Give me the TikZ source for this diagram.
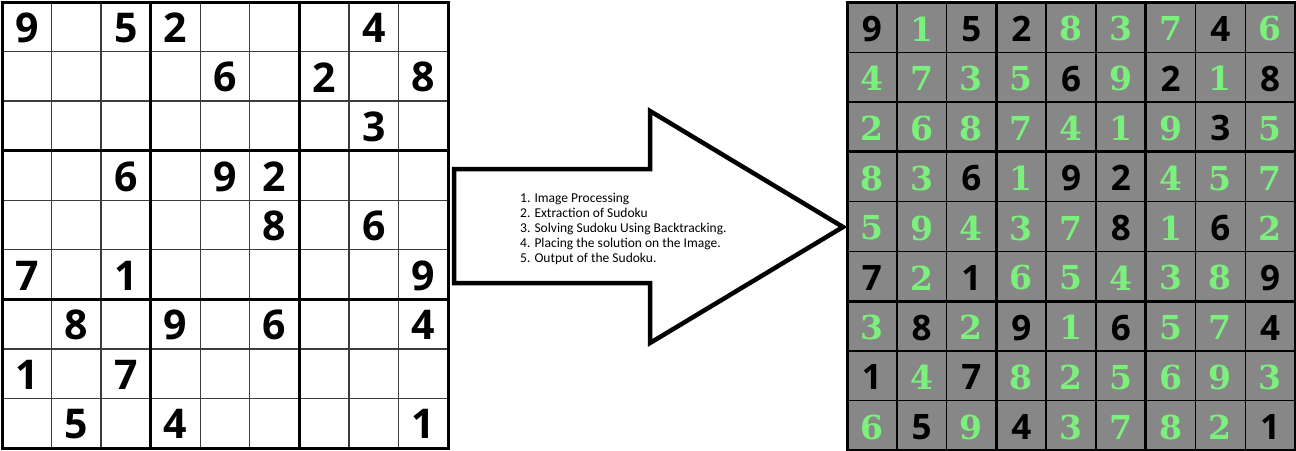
\documentclass[tikz,border=0pt]{standalone}
\usepackage{fontspec}
\setmainfont{Carlito}
\newfontfamily\givenfont{Open Sans}
\newfontfamily\solvedfont{DejaVu Serif}
\definecolor{cellgray}{RGB}{135,135,135}
\definecolor{solvedgreen}{RGB}{124,240,124}
\definecolor{thinline}{RGB}{60,60,60}
\tikzset{
  thingrid/.style={draw=thinline, line width=1.3pt},
  thickgrid/.style={draw=black, line width=3pt},
  clue/.style={inner sep=0pt, font=\givenfont\bfseries\fontsize{41}{41}\selectfont},
  digitk/.style={inner sep=0pt, text=black, font=\givenfont\bfseries\fontsize{35}{35}\selectfont},
  digitg/.style={inner sep=0pt, text=solvedgreen, font=\solvedfont\bfseries\fontsize{33}{33}\selectfont},
  bigarrow/.style={draw=black, line width=4.5pt, line join=miter, fill=white},
  steplist/.style={inner sep=0pt, align=left, anchor=north west,
    font=\fontsize{13.5}{15}\selectfont}
}
\begin{document}
\begin{tikzpicture}[x=1pt,y=-1pt]
\useasboundingbox (0,0) rectangle (1296,450);
\fill[white] (0,0) rectangle (1296,450);

% ---------- puzzle (left) ----------
\def\lx{2}\def\ly{2}\def\lc{49.56}
\foreach \i in {1,2,4,5,7,8}{
  \draw[thingrid] (\lx+\i*\lc,\ly) -- (\lx+\i*\lc,\ly+9*\lc);
  \draw[thingrid] (\lx,\ly+\i*\lc) -- (\lx+9*\lc,\ly+\i*\lc);
}
\foreach \i in {3,6}{
  \draw[thickgrid] (\lx+\i*\lc,\ly) -- (\lx+\i*\lc,\ly+9*\lc);
  \draw[thickgrid] (\lx,\ly+\i*\lc) -- (\lx+9*\lc,\ly+\i*\lc);
}
\draw[thickgrid] (\lx,\ly) rectangle (\lx+9*\lc,\ly+9*\lc);

\foreach \r/\row in {
  0/{9,0,5,2,0,0,0,4,0},
  1/{0,0,0,0,6,0,2,0,8},
  2/{0,0,0,0,0,0,0,3,0},
  3/{0,0,6,0,9,2,0,0,0},
  4/{0,0,0,0,0,8,0,6,0},
  5/{7,0,1,0,0,0,0,0,9},
  6/{0,8,0,9,0,6,0,0,4},
  7/{1,0,7,0,0,0,0,0,0},
  8/{0,5,0,4,0,0,0,0,1}}{
  \foreach \d [count=\c from 0] in \row {
    \ifnum\d>0
      \node[clue] (L-\r-\c) at (\lx+\c*\lc+0.5*\lc,\ly+\r*\lc+0.5*\lc+1) {\d};
    \fi
  }
}

% ---------- solution (right) ----------
\def\rx{847}\def\ry{2.5}\def\rc{49.78}
\fill[cellgray] (\rx,\ry) rectangle (\rx+9*\rc,\ry+9*\rc);
\foreach \i in {1,2,4,5,7,8}{
  \draw[draw=black, line width=1.5pt] (\rx+\i*\rc,\ry) -- (\rx+\i*\rc,\ry+9*\rc);
  \draw[draw=black, line width=1.5pt] (\rx,\ry+\i*\rc) -- (\rx+9*\rc,\ry+\i*\rc);
}
\foreach \i in {3,6}{
  \draw[thickgrid] (\rx+\i*\rc,\ry) -- (\rx+\i*\rc,\ry+9*\rc);
  \draw[thickgrid] (\rx,\ry+\i*\rc) -- (\rx+9*\rc,\ry+\i*\rc);
}
\draw[thickgrid] (\rx,\ry) rectangle (\rx+9*\rc,\ry+9*\rc);

\foreach \r/\row in {
  0/{9/k,1/g,5/k,2/k,8/g,3/g,7/g,4/k,6/g},
  1/{4/g,7/g,3/g,5/g,6/k,9/g,2/k,1/g,8/k},
  2/{2/g,6/g,8/g,7/g,4/g,1/g,9/g,3/k,5/g},
  3/{8/g,3/g,6/k,1/g,9/k,2/k,4/g,5/g,7/g},
  4/{5/g,9/g,4/g,3/g,7/g,8/k,1/g,6/k,2/g},
  5/{7/k,2/g,1/k,6/g,5/g,4/g,3/g,8/g,9/k},
  6/{3/g,8/k,2/g,9/k,1/g,6/k,5/g,7/g,4/k},
  7/{1/k,4/g,7/k,8/g,2/g,5/g,6/g,9/g,3/g},
  8/{6/g,5/k,9/g,4/k,3/g,7/g,8/g,2/g,1/k}}{
  \foreach \d/\t [count=\c from 0] in \row {
    \node[digit\t] (R-\r-\c) at (\rx+\c*\rc+0.5*\rc,\ry+\r*\rc+0.5*\rc+1.5) {\d};
  }
}

% ---------- arrow with the processing steps ----------
\draw[bigarrow] (454,169) -- (650,169) -- (650,111) -- (843,227)
  -- (650,343) -- (650,283) -- (454,283) -- cycle;
\node[steplist] (steps) at (520,193) {1. Image Processing\\
2. Extraction of Sudoku\\
3. Solving Sudoku Using Backtracking.\\
4. Placing the solution on the Image.\\
5. Output of the Sudoku.};
\end{tikzpicture}
\end{document}
